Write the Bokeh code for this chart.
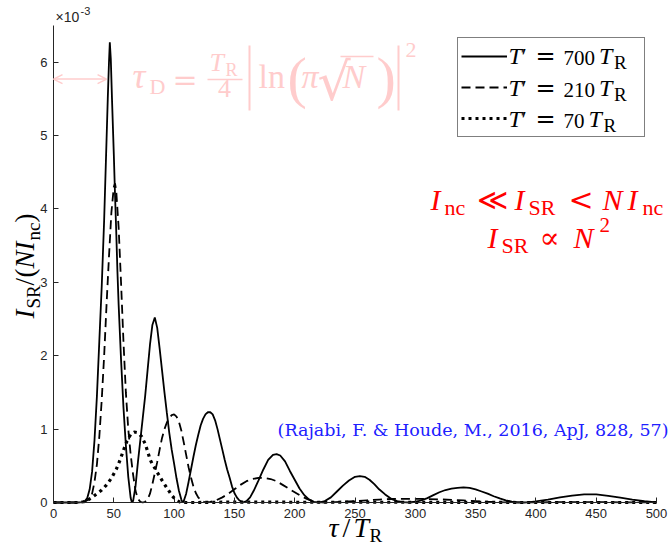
import numpy as np
from bokeh.plotting import figure
from bokeh.models import (Range1d, FixedTicker, Label, Arrow, OpenHead, Legend, LegendItem,
                          LinearAxis)
from bokeh.embed import file_html
from bokeh.resources import INLINE

# ---------------- data (intensity in units of 1e-3) ----------------
tau_700 = [0, 10, 20, 24, 26, 28, 30, 32, 34, 36,
           38, 40, 42, 44, 45, 46, 46.7, 47.5, 48.5, 50,
           51, 52, 53, 54, 56, 58, 60, 62, 64, 65,
           66, 68, 70, 72, 74, 76, 78, 80, 82, 84,
           86, 88, 90, 92, 94, 96, 98, 100, 102, 104,
           106, 107, 108, 110, 112, 114, 116, 118, 120, 122,
           124, 126, 128, 130, 132, 134, 136, 138, 140, 142,
           144, 146, 148, 150, 152, 154, 157, 160, 163, 166,
           170, 174, 178, 182, 185, 188, 192, 196, 200, 204,
           208, 212, 216, 220, 225, 230, 235, 240, 245, 250,
           254, 258, 262, 266, 270, 275, 280, 285, 290, 295,
           300, 305, 310, 315, 320, 325, 330, 335, 340, 345,
           350, 355, 360, 365, 370, 375, 380, 385, 390, 395,
           400, 410, 420, 430, 440, 445, 450, 460, 470, 480,
           490, 500]
I_700 = [0, 0, 0, 0.005, 0.02, 0.06, 0.18, 0.42, 0.85, 1.45,
         2.2, 2.95, 3.85, 4.95, 5.5, 6.0, 6.27, 6.05, 5.5, 4.75,
         4.2, 3.7, 3.15, 2.7, 1.95, 1.3, 0.78, 0.35, 0.06, 0.0,
         0.02, 0.22, 0.55, 0.85, 1.15, 1.45, 1.8, 2.15, 2.42, 2.52,
         2.38, 2.1, 1.8, 1.5, 1.22, 0.95, 0.72, 0.53, 0.33, 0.16,
         0.04, 0.0, 0.02, 0.12, 0.28, 0.45, 0.62, 0.78, 0.92, 1.05,
         1.14, 1.2, 1.23, 1.23, 1.2, 1.12, 1.0, 0.86, 0.72, 0.58,
         0.45, 0.34, 0.22, 0.13, 0.07, 0.03, 0.0, 0.02, 0.07, 0.16,
         0.3, 0.45, 0.58, 0.65, 0.66, 0.64, 0.56, 0.43, 0.31, 0.19,
         0.1, 0.04, 0.01, 0.0, 0.02, 0.07, 0.15, 0.23, 0.3, 0.35,
         0.36, 0.35, 0.31, 0.25, 0.18, 0.11, 0.05, 0.02, 0.005, 0.0,
         0.01, 0.03, 0.06, 0.1, 0.14, 0.17, 0.19, 0.2, 0.205, 0.2,
         0.18, 0.15, 0.12, 0.085, 0.055, 0.03, 0.012, 0.003, 0.0, 0.005,
         0.015, 0.04, 0.07, 0.095, 0.11, 0.112, 0.11, 0.09, 0.065, 0.04,
         0.017, 0.0]

tau_210 = [0, 20, 26, 30, 32, 34, 36, 38, 40, 42,
           44, 46, 48, 50, 51, 52, 54, 56, 58, 60,
           62, 64, 66, 68, 70, 72, 74, 76, 78, 80,
           82, 84, 86, 88, 90, 92, 94, 96, 98, 100,
           102, 104, 106, 108, 110, 112, 114, 116, 118, 120,
           123, 126, 130, 135, 140, 145, 150, 155, 160, 165,
           170, 175, 180, 185, 190, 195, 200, 205, 210, 215,
           220, 225, 230, 240, 250, 260, 270, 280, 290, 300,
           310, 320, 330, 340, 350, 360, 370, 380, 400, 420,
           440, 460, 480, 500]
I_210 = [0, 0, 0.01, 0.05, 0.12, 0.28, 0.52, 0.9, 1.4, 2.0,
         2.7, 3.35, 3.95, 4.3, 4.35, 4.25, 3.75, 3.0, 2.2, 1.5,
         1.0, 0.65, 0.38, 0.16, 0.05, 0.01, 0.0, 0.01, 0.04, 0.12,
         0.25, 0.4, 0.55, 0.72, 0.88, 1.0, 1.09, 1.15, 1.19, 1.2,
         1.17, 1.1, 0.98, 0.82, 0.65, 0.48, 0.34, 0.22, 0.13, 0.07,
         0.02, 0.0, 0.01, 0.03, 0.07, 0.12, 0.18, 0.24, 0.29, 0.32,
         0.335, 0.335, 0.32, 0.29, 0.24, 0.19, 0.14, 0.09, 0.05, 0.02,
         0.005, 0.0, 0.003, 0.01, 0.02, 0.03, 0.04, 0.048, 0.05, 0.05,
         0.048, 0.043, 0.036, 0.028, 0.02, 0.01, 0.004, 0.0, 0.002, 0.004,
         0.005, 0.004, 0.002, 0.0]

tau_70 = [0, 20, 25, 28, 32, 36, 40, 44, 48, 52,
          55, 58, 61, 64, 67, 70, 73, 76, 78, 80,
          82, 84, 86, 88, 90, 92, 94, 96, 98, 100,
          102, 105, 110, 120, 140, 160, 180, 200, 250, 300,
          350, 400, 450, 500]
I_70 = [0, 0, 0.01, 0.03, 0.07, 0.12, 0.17, 0.24, 0.33, 0.45,
        0.57, 0.71, 0.84, 0.93, 0.96, 0.95, 0.9, 0.8, 0.7, 0.59,
        0.52, 0.47, 0.41, 0.36, 0.3, 0.25, 0.2, 0.15, 0.1, 0.06,
        0.03, 0.005, 0.0, 0.0, 0.004, 0.006, 0.005, 0.003, 0.004, 0.003,
        0.001, 0.0, 0.0, 0.0]

x_ticks = [0, 50, 100, 150, 200, 250, 300, 350, 400, 450, 500]
y_ticks = [0, 1, 2, 3, 4, 5, 6]
legend_values = ["700", "210", "70"]
TAU_D = 44          # delay time marked by the double arrow
ARROW_Y = 5.77
citation = "(Rajabi, F. & Houde, M., 2016, ApJ, 828, 57)"

# ---------------- figure geometry ----------------
W, H = 671, 547
FX0, FX1 = 53, 656      # pixel columns of tau = 0 and 500
FY0, FY1 = 502, 25      # pixel rows of I = 0 and 6.5
XLO, XHI = 0, 500
YLO, YHI = 0, 6.5
sx = (FX1 - FX0) / (XHI - XLO)
sy = (FY0 - FY1) / (YHI - YLO)
x_range = Range1d(XLO - FX0 / sx, XLO + (W - FX0) / sx)
y_range = Range1d(YLO - (H - FY0) / sy, YLO + FY0 / sy)

SERIF = "Liberation Serif"
SERIF2 = "DejaVu Serif"
SANS = "Liberation Sans"
AX = "#262626"
PINK = "#ffcccc"
RED = "#ff0000"
BLUE = "#2020ff"

p = figure(width=W, height=H, output_backend="svg", toolbar_location=None,
           x_range=x_range, y_range=y_range, x_axis_type=None, y_axis_type=None,
           min_border=0, min_border_left=0, min_border_right=0,
           min_border_top=0, min_border_bottom=0)
p.outline_line_color = None
p.background_fill_color = "white"
p.border_fill_color = "white"

xaxis = LinearAxis(fixed_location=0, bounds=(XLO, XHI), ticker=FixedTicker(ticks=x_ticks))
yaxis = LinearAxis(fixed_location=0, bounds=(YLO, YHI), ticker=FixedTicker(ticks=y_ticks))
for ax in (xaxis, yaxis):
    ax.axis_line_color = AX
    ax.axis_line_width = 1
    ax.major_tick_line_color = AX
    ax.major_tick_in = 5
    ax.major_tick_out = 0
    ax.minor_tick_line_color = None
    ax.major_label_text_font = SANS
    ax.major_label_text_font_size = "13px"
    ax.major_label_text_color = AX
    ax.major_label_standoff = 6
p.add_layout(xaxis, "below")
p.add_layout(yaxis, "left")

r700 = p.line(tau_700, I_700, line_color="black", line_width=1.8)
r210 = p.line(tau_210, I_210, line_color="black", line_width=1.8, line_dash="9 5")
r70 = p.line(tau_70, I_70, line_color="black", line_width=3.2, line_dash="3 4")

legend = Legend(items=[LegendItem(label=" ", renderers=[r]) for r in (r700, r210, r70)],
                location=(457, H - 137), orientation="vertical", padding=3, spacing=1, margin=0,
                glyph_width=46, glyph_height=30, label_height=30, label_width=134,
                label_standoff=0, border_line_color="black", border_line_width=1,
                background_fill_alpha=0.0)
p.add_layout(legend)

K = 0.38   # measured offset of Bokeh's alphabetic anchor, in em


def lab(px, py, text, size, italic=False, color="black", font=SERIF, angle=0.0, align="left"):
    ax_ = px - K * size * np.sin(angle)
    ay_ = (H - py) + K * size * np.cos(angle)
    p.add_layout(Label(x=ax_, y=ay_, x_units="screen", y_units="screen", text=text,
                       text_font=font, text_font_size=f"{size}px",
                       text_font_style="italic" if italic else "normal",
                       text_color=color, text_align=align, text_baseline="alphabetic",
                       angle=angle, level="overlay"))


def seg(x1, y1, x2, y2, color, width):
    p.add_layout(Arrow(x_start=x1, y_start=H - y1, x_end=x2, y_end=H - y2,
                       start_units="screen", end_units="screen", start=None, end=None,
                       line_color=color, line_width=width))


# exponent label
lab(55, 22, "×10", 14, color=AX, font=SANS)
lab(80, 15, "-3", 11, color=AX, font=SANS)

# pink delay-time arrow and formula
p.add_layout(Arrow(x_start=0, y_start=ARROW_Y, x_end=TAU_D, y_end=ARROW_Y,
                   start=OpenHead(size=9, line_color=PINK, line_width=1.5),
                   end=OpenHead(size=9, line_color=PINK, line_width=1.5),
                   line_color=PINK, line_width=1.5))
lab(132, 89, "τ", 36, italic=True, color=PINK)
lab(149, 94, "D", 22, color=PINK)
lab(172, 90, "=", 30, color=PINK, font=SERIF2)
lab(209, 72, "T", 26, italic=True, color=PINK)
lab(225, 76, "R", 18, color=PINK)
seg(207, 79, 242, 79, PINK, 1.6)
lab(224, 98, "4", 26, color=PINK, align="center")
seg(249, 45, 249, 110, PINK, 2)
lab(258, 89, "ln", 34, color=PINK)
lab(287, 99, "(", 58, color=PINK)
lab(301, 89, "π", 34, italic=True, color=PINK)
lab(317, 101, "√", 52, color=PINK, font=SERIF2)
seg(340, 56, 373, 56, PINK, 1.6)
lab(342, 89, "N", 34, italic=True, color=PINK)
lab(376, 99, ")", 58, color=PINK)
seg(398, 45, 398, 110, PINK, 2)
lab(405, 58, "2", 22, color=PINK)

# legend texts
for val, base in zip(legend_values, [65, 97, 128]):
    lab(508, base, "T", 24, italic=True)
    lab(521, base, "′", 24)
    lab(535, base, "=", 24, font=SERIF2)
    lab(563, base, val, 21)
    xt = 563 + 10.5 * len(val) + 4
    lab(xt, base, "T", 24, italic=True)
    lab(xt + 15, base + 4, "R", 19)

# red relations
lab(430, 210, "I", 30, italic=True, color=RED)
lab(444, 215, "nc", 22, color=RED)
lab(476, 210, "≪", 30, color=RED, font=SERIF2)
lab(514, 210, "I", 30, italic=True, color=RED)
lab(528, 215, "SR", 22, color=RED)
lab(568, 210, "<", 30, color=RED, font=SERIF2)
lab(602, 210, "N", 30, italic=True, color=RED)
lab(627, 210, "I", 30, italic=True, color=RED)
lab(642, 215, "nc", 22, color=RED)

lab(487, 248, "I", 30, italic=True, color=RED)
lab(501, 253, "SR", 22, color=RED)
lab(539, 248, "∝", 30, color=RED, font=SERIF2)
lab(573, 248, "N", 30, italic=True, color=RED)
lab(599, 232, "2", 21, color=RED)

# citation
lab(668, 436, citation, 17.5, color=BLUE, font=SERIF2, align="right")

# axis labels
A = np.pi / 2
lab(35, 318, "I", 27, italic=True, angle=A)
lab(40, 308, "SR", 19, angle=A)
lab(35, 285, "/", 27, angle=A)
lab(35, 277, "(", 27, angle=A)
lab(35, 268, "N", 27, italic=True, angle=A)
lab(35, 250, "I", 27, italic=True, angle=A)
lab(40, 240, "nc", 19, angle=A)
lab(35, 222, ")", 27, angle=A)

lab(328, 538, "τ", 28, italic=True)
lab(342, 538, "/", 28)
lab(353, 538, "T", 28, italic=True)
lab(369, 542, "R", 19)

open("out.html", "w").write(file_html(p, INLINE))
